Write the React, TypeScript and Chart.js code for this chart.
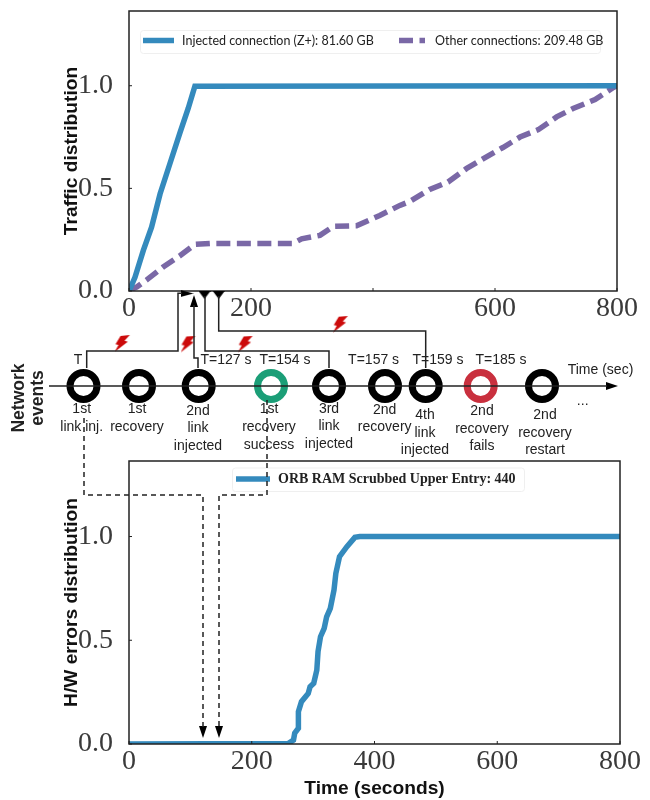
import React, { useEffect, useRef } from "react";
import { Chart, registerables } from "chart.js";

Chart.register(...registerables);

// ---------- data ----------
const injectedTime = [0, 1.6, 9.8, 23.5, 37, 51, 67, 84, 97, 108, 800];
const injectedShare = [0, 0.01, 0.067, 0.198, 0.311, 0.474, 0.62, 0.775, 0.889, 0.998, 1];
const otherTime = [0, 1.6, 12.6, 29, 56, 84, 108, 133, 269, 283, 313, 335, 373, 411, 444, 461, 493, 523, 553, 581, 613, 641, 671, 701, 728, 764, 794, 800];
const otherShare = [0, 0.006, 0.019, 0.054, 0.117, 0.173, 0.227, 0.232, 0.232, 0.254, 0.271, 0.315, 0.318, 0.368, 0.417, 0.437, 0.495, 0.531, 0.596, 0.645, 0.699, 0.75, 0.786, 0.848, 0.889, 0.933, 0.991, 1];
const errorTime = [0, 260, 268, 270, 276, 276, 281, 292, 295, 301, 306, 308, 312, 318, 322, 328, 334, 337, 343, 355, 368, 376, 800];
const errorShare = [0, 0.003, 0.019, 0.052, 0.076, 0.156, 0.204, 0.244, 0.276, 0.293, 0.356, 0.445, 0.517, 0.557, 0.613, 0.654, 0.742, 0.822, 0.903, 0.951, 0.996, 1, 1];

const xTicks = [0, 200, 400, 600, 800];
const yTicks = [0, 0.5, 1];
const hiddenTopLabels = [400];
const injectedLabel = "Injected connection (Z+): 81.60 GB";
const otherLabel = "Other connections: 209.48 GB";
const errorLabel = "ORB RAM Scrubbed Upper Entry: 440";

const eventLabels = [
  ["1st", "link inj."],
  ["1st", "recovery"],
  ["2nd", "link", "injected"],
  ["1st", "recovery", "success"],
  ["3rd", "link", "injected"],
  ["2nd", "recovery"],
  ["4th", "link", "injected"],
  ["2nd", "recovery", "fails"],
  ["2nd", "recovery", "restart"],
];
const eventTimes = ["T", "T=127 s", "T=154 s", "T=157 s", "T=159 s", "T=185 s"];

// ---------- layout of the schematic (page pixels) ----------
const eventX = [83.5, 139, 198.7, 271, 329, 385, 425.7, 480.7, 542];
const eventLabelX = [81.7, 137, 198, 269, 329, 384.7, 425, 482, 545];
const eventLabelY = [
  [409, 426.7],
  [409, 426.7],
  [410.7, 428, 445.7],
  [409, 426.7, 444.7],
  [409, 426, 444],
  [410, 427],
  [415, 432.7, 450],
  [411, 428.7, 446],
  [415, 433, 450],
];
const timeLabelX = [78, 226, 285, 373.6, 438, 501];
const boltPos = [
  [122.5, 344],
  [188.5, 344.5],
  [245.7, 344.5],
  [340.7, 324.7],
];
const INK = "#222222";
const BLUE = "#348ABD";
const PURPLE = "#7A68A6";
const GREEN = "#1B9E77";
const RED = "#C9303E";
const TICK_FONT = "'Liberation Serif', serif";

function pts(xs: number[], ys: number[]) {
  return xs.map((x, i) => ({ x, y: ys[i] }));
}
function path(...p: number[][]) {
  return p.map(([x, y]) => ({ x, y }));
}

function arrowSprite(len: number, wid: number, dir: "right" | "up" | "down") {
  const c = document.createElement("canvas");
  const horiz = dir === "right";
  c.width = horiz ? len : wid;
  c.height = horiz ? wid : len;
  const g = c.getContext("2d")!;
  g.fillStyle = "#000";
  g.beginPath();
  if (dir === "right") {
    g.moveTo(0, 0); g.lineTo(len, wid / 2); g.lineTo(0, wid);
  } else if (dir === "up") {
    g.moveTo(0, len); g.lineTo(wid / 2, 0); g.lineTo(wid, len);
  } else {
    g.moveTo(0, 0); g.lineTo(wid / 2, len); g.lineTo(wid, 0);
  }
  g.closePath();
  g.fill();
  return c;
}

function boltSprite() {
  const c = document.createElement("canvas");
  c.width = 16;
  c.height = 18;
  const g = c.getContext("2d")!;
  g.fillStyle = "#CC0A0A";
  g.beginPath();
  g.moveTo(6, 1); g.lineTo(15.3, 0); g.lineTo(10, 5.7); g.lineTo(13.3, 6.7);
  g.lineTo(0, 17); g.lineTo(4, 10); g.lineTo(1, 9.3);
  g.closePath();
  g.fill();
  return c;
}

const framePlugin = {
  id: "frame",
  afterDatasetsDraw(chart: any) {
    const { ctx, chartArea: a, scales } = chart;
    ctx.save();
    ctx.strokeStyle = INK;
    ctx.lineWidth = 1;
    scales.x.ticks.forEach((t: any) => {
      const px = scales.x.getPixelForValue(t.value);
      ctx.beginPath(); ctx.moveTo(px, a.bottom); ctx.lineTo(px, a.bottom - 3); ctx.stroke();
    });
    scales.y.ticks.forEach((t: any) => {
      const py = scales.y.getPixelForValue(t.value);
      ctx.beginPath(); ctx.moveTo(a.left, py); ctx.lineTo(a.left + 3, py); ctx.stroke();
    });
    ctx.lineWidth = 1.5;
    ctx.strokeRect(a.left, a.top, a.right - a.left, a.bottom - a.top);
    ctx.restore();
  },
};

function legendPlugin(box: number[], items: any[], font: string) {
  return {
    id: "boxLegend",
    afterDraw(chart: any) {
      const { ctx } = chart;
      ctx.save();
      ctx.fillStyle = "rgba(255,255,255,0.85)";
      ctx.strokeStyle = "#EFEFEF";
      ctx.lineWidth = 1;
      ctx.beginPath();
      ctx.roundRect(box[0], box[1], box[2], box[3], 3);
      ctx.fill();
      ctx.stroke();
      items.forEach((it) => {
        const ds = chart.data.datasets[it.index];
        ctx.strokeStyle = ds.borderColor;
        ctx.lineWidth = ds.borderWidth;
        ctx.setLineDash(ds.borderDash || []);
        ctx.beginPath();
        ctx.moveTo(it.x0, it.y);
        ctx.lineTo(it.x1, it.y);
        ctx.stroke();
        ctx.setLineDash([]);
        ctx.fillStyle = INK;
        ctx.font = font;
        ctx.textBaseline = "middle";
        ctx.textAlign = "left";
        ctx.fillText(ds.label, it.tx, it.y + 0.5);
      });
      ctx.restore();
    },
  };
}

function axes(xTitle: string | null, yTitle: string, xH: number, hideX: number[]) {
  const titleFont = { family: "'Liberation Sans', sans-serif", size: 19.2, weight: "bold" as const };
  return {
    x: {
      type: "linear" as const,
      min: 0,
      max: 800,
      afterBuildTicks: (s: any) => { s.ticks = xTicks.map((value) => ({ value })); },
      afterFit: (s: any) => {
        s.height = xH;
        s.paddingLeft = 0;
        s.paddingRight = 0;
      },
      grid: { display: false },
      border: { display: false },
      ticks: {
        autoSkip: false,
        maxRotation: 0,
        padding: -7,
        color: "#3a3a3a",
        font: { family: TICK_FONT, size: 28 },
        callback: (v: any) => (hideX.includes(v) ? "" : String(v)),
      },
      title: xTitle
        ? { display: true, text: xTitle, color: "#111", padding: { top: -2, bottom: 0 }, font: titleFont }
        : { display: false },
    },
    y: {
      type: "linear" as const,
      min: 0,
      max: 1.364,
      afterBuildTicks: (s: any) => { s.ticks = yTicks.map((value) => ({ value })); },
      afterFit: (s: any) => {
        s.width = 69;
        s.paddingTop = 0;
        s.paddingBottom = 0;
      },
      grid: { display: false },
      border: { display: false },
      ticks: {
        padding: 8,
        color: "#3a3a3a",
        font: { family: TICK_FONT, size: 28 },
        callback: (v: any) => Number(v).toFixed(1),
      },
      title: { display: true, text: yTitle, color: "#111", padding: 0, font: titleFont },
    },
  };
}

export default function App() {
  const topRef = useRef<HTMLCanvasElement>(null);
  const botRef = useRef<HTMLCanvasElement>(null);
  const ovRef = useRef<HTMLCanvasElement>(null);

  useEffect(() => {
    const base = { responsive: false, animation: false as const, events: [] as any[] };
    const noPlug = { legend: { display: false }, tooltip: { enabled: false } };

    const top = new Chart(topRef.current!, {
      type: "line",
      data: {
        datasets: [
          { label: injectedLabel, data: pts(injectedTime, injectedShare), borderColor: BLUE, borderWidth: 5.5, pointRadius: 0, tension: 0, clip: 0 },
          { label: otherLabel, data: pts(otherTime, otherShare), borderColor: PURPLE, borderWidth: 5.5, borderDash: [14, 6.5], pointRadius: 0, tension: 0, clip: 0 },
        ],
      },
      options: {
        ...base,
        layout: { autoPadding: false, padding: { left: 60, right: 33, top: 11, bottom: 0 } },
        plugins: noPlug,
        scales: axes(null, "Traffic distribution", 49, hiddenTopLabels),
      },
      plugins: [
        framePlugin,
        legendPlugin(
          [140.5, 30.5, 460, 23],
          [
            { index: 0, x0: 143, x1: 174, y: 40.5, tx: 182 },
            { index: 1, x0: 399, x1: 425, y: 40.5, tx: 435 },
          ],
          "12.5px Lato, sans-serif"
        ),
      ],
    } as any);

    // bottom canvas starts at page y = 450
    const bot = new Chart(botRef.current!, {
      type: "line",
      data: {
        datasets: [
          { label: errorLabel, data: pts(errorTime, errorShare), borderColor: BLUE, borderWidth: 5.5, pointRadius: 0, tension: 0, clip: 0 },
        ],
      },
      options: {
        ...base,
        layout: { autoPadding: false, padding: { left: 60, right: 30, top: 11, bottom: 0 } },
        plugins: noPlug,
        scales: axes("Time (seconds)", "H/W errors distribution", 56, []),
      },
      plugins: [
        framePlugin,
        legendPlugin(
          [232.5, 18, 292, 23.5],
          [{ index: 0, x0: 236, x1: 270, y: 29, tx: 278 }],
          "bold 14px 'Liberation Serif', serif"
        ),
      ],
    } as any);

    const solid = (data: any[]) => ({ data, showLine: true, borderColor: INK, borderWidth: 1.5, pointRadius: 0, tension: 0, clip: false });
    const dashed = (data: any[]) => ({ ...solid(data), borderDash: [5, 4] });
    const sprite = (data: any[], style: any) => ({ data, showLine: false, pointStyle: style, pointRadius: 8, clip: false });

    const labelPlugin = {
      id: "eventText",
      afterDatasetsDraw(chart: any) {
        const { ctx, scales } = chart;
        const X = (v: number) => scales.x.getPixelForValue(v);
        const Y = (v: number) => scales.y.getPixelForValue(v);
        ctx.save();
        ctx.fillStyle = INK;
        ctx.textAlign = "center";
        ctx.textBaseline = "middle";
        ctx.font = "14px 'Liberation Sans', sans-serif";
        eventLabels.forEach((lines, i) => {
          lines.forEach((t, j) => ctx.fillText(t, X(eventLabelX[i]), Y(eventLabelY[i][j])));
        });
        eventTimes.forEach((t, i) => ctx.fillText(t, X(timeLabelX[i]), Y(360.5)));
        ctx.fillText("Time (sec)", X(600.5), Y(370));
        ctx.fillText("...", X(582.7), Y(401));
        ctx.font = "bold 17.5px 'Liberation Sans', sans-serif";
        [["Network", 19], ["events", 38]].forEach(([t, x]: any) => {
          ctx.save();
          ctx.translate(X(x), Y(398));
          ctx.rotate(-Math.PI / 2);
          ctx.fillText(t, 0, 0);
          ctx.restore();
        });
        ctx.restore();
      },
    };

    const ov = new Chart(ovRef.current!, {
      type: "scatter",
      data: {
        datasets: [
          solid(path([49, 386], [607, 386])),
          solid(path([86.7, 368], [86.7, 351], [178, 351], [178, 293.3], [182, 293.3])),
          solid(path([198, 368], [198, 358], [194, 358], [194, 305])),
          solid(path([329, 368], [329, 351], [205, 351], [205, 296])),
          solid(path([425.7, 368], [425.7, 331], [218.7, 331], [218.7, 296])),
          dashed(path([84, 418], [84, 495], [203, 495], [203, 728])),
          dashed(path([267, 400], [267, 495], [219, 495], [219, 728])),
          sprite(path([612, 386]), arrowSprite(12, 8, "right")),
          sprite(path([187, 293.5]), arrowSprite(13, 7, "right")),
          sprite(path([194, 301]), arrowSprite(12, 8, "up")),
          sprite(path([204.5, 295]), arrowSprite(8, 12, "down")),
          sprite(path([218.7, 295]), arrowSprite(8, 12, "down")),
          sprite(path([203, 732]), arrowSprite(12, 8, "down")),
          sprite(path([219, 732]), arrowSprite(12, 8, "down")),
          sprite(boltPos.map(([x, y]) => ({ x, y })), boltSprite()),
          {
            data: eventX.map((x) => ({ x, y: 386 })),
            showLine: false,
            pointStyle: "circle",
            pointRadius: 13.5,
            pointBorderWidth: 7,
            pointBackgroundColor: "rgba(0,0,0,0)",
            pointBorderColor: eventX.map((_, i) => (i === 3 ? GREEN : i === 7 ? RED : "#000")),
            clip: false,
          },
        ],
      },
      options: {
        ...base,
        layout: { autoPadding: false, padding: 0 },
        plugins: noPlug,
        scales: {
          x: { type: "linear", min: 0, max: 650, display: false },
          y: { type: "linear", min: 0, max: 800, reverse: true, display: false },
        },
      },
      plugins: [labelPlugin],
    } as any);

    return () => {
      top.destroy();
      bot.destroy();
      ov.destroy();
    };
  }, []);

  const abs = (t: number): React.CSSProperties => ({ position: "absolute", left: 0, top: t, display: "block" });
  return (
    <div style={{ position: "absolute", left: 0, top: 0, width: 650, height: 800, overflow: "hidden", background: "#fff" }}>
      <canvas ref={topRef} width={650} height={340} style={abs(0)} />
      <canvas ref={botRef} width={650} height={350} style={abs(450)} />
      <canvas ref={ovRef} width={650} height={800} style={abs(0)} />
    </div>
  );
}
